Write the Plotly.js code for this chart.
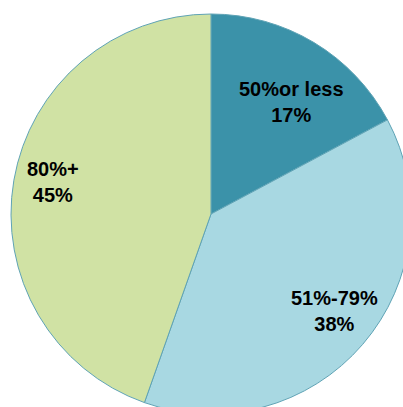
<!DOCTYPE html>
<html>
<head>
<meta charset="utf-8">
<script src="https://cdn.plot.ly/plotly-3.0.1.min.js"></script>
<style>html,body{margin:0;padding:0;background:#fff;overflow:hidden}</style>
</head>
<body>
<div id="chart" style="width:420px;height:420px"></div>
<script>
const categories = ["50%or less", "51%-79%", "80%+"];
const shares = [17.2, 38.2, 44.6];
const sliceColors = ["#3B92A9", "#A8D8E2", "#D0E2A4"];
// label placement style: radial fraction and angular nudge (degrees)
const labelRadius = [0.693, 0.785, 0.806];
const labelNudge = [4.8, -2.5, 1.6];

const total = shares.reduce((a, b) => a + b, 0);
let cum = 0;
const annotations = shares.map((v, i) => {
  const mid = (cum + v / 2) / total * 2 * Math.PI + labelNudge[i] * Math.PI / 180;
  cum += v;
  const f = labelRadius[i] * 0.5;
  return {
    xref: "paper", yref: "paper",
    x: 0.5 + f * Math.sin(mid),
    y: 0.5 + f * Math.cos(mid),
    xanchor: "center", yanchor: "middle",
    showarrow: false,
    text: categories[i] + "<br>" + Math.round(v / total * 100) + "%",
    font: {family: "Liberation Sans, Arial, sans-serif", size: 20, color: "#000", weight: "bold"}
  };
});

Plotly.newPlot("chart", [{
  type: "pie",
  labels: categories,
  values: shares,
  sort: false,
  direction: "clockwise",
  rotation: 0,
  marker: {colors: sliceColors, line: {color: "#5FA3B5", width: 1}},
  textinfo: "none",
  hoverinfo: "none",
  showlegend: false
}], {
  width: 420, height: 420,
  margin: {l: 11, r: 9, t: 14, b: 6},
  paper_bgcolor: "#fff",
  showlegend: false,
  annotations: annotations
}, {staticPlot: true});
</script>
</body>
</html>
